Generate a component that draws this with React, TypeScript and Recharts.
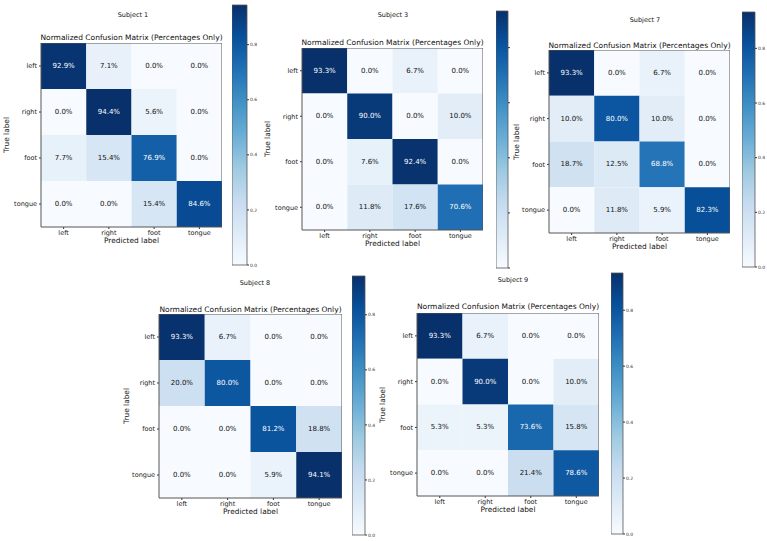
import React from "react";
import { ScatterChart, Scatter, XAxis, YAxis, ReferenceArea, BarChart, Bar } from "recharts";

// class labels, shared by both axes
const classes = ["left", "right", "foot", "tongue"];
const subjects = ["Subject 1", "Subject 3", "Subject 7", "Subject 8", "Subject 9"];

// row-normalised confusion matrices, percent (rows = true label)
const subject1 = [
  [92.9, 7.1, 0.0, 0.0],
  [0.0, 94.4, 5.6, 0.0],
  [7.7, 15.4, 76.9, 0.0],
  [0.0, 0.0, 15.4, 84.6],
];
const subject3 = [
  [93.3, 0.0, 6.7, 0.0],
  [0.0, 90.0, 0.0, 10.0],
  [0.0, 7.6, 92.4, 0.0],
  [0.0, 11.8, 17.6, 70.6],
];
const subject7 = [
  [93.3, 0.0, 6.7, 0.0],
  [10.0, 80.0, 10.0, 0.0],
  [18.7, 12.5, 68.8, 0.0],
  [0.0, 11.8, 5.9, 82.3],
];
const subject8 = [
  [93.3, 6.7, 0.0, 0.0],
  [20.0, 80.0, 0.0, 0.0],
  [0.0, 0.0, 81.2, 18.8],
  [0.0, 0.0, 5.9, 94.1],
];
const subject9 = [
  [93.3, 6.7, 0.0, 0.0],
  [0.0, 90.0, 0.0, 10.0],
  [5.3, 5.3, 73.6, 15.8],
  [0.0, 0.0, 21.4, 78.6],
];
const matrices = [subject1, subject3, subject7, subject8, subject9];
const colorbarTicks = [0, 0.2, 0.4, 0.6, 0.8];

// page layout of each panel: matrix box [l,t,r,b], titles, colorbar box
const layout = [
  { box: [41, 43, 222, 227], title: [133, 15], heading: 38, yLabel: 7, cb: [232, 5, 247, 265], cbText: true },
  { box: [302, 48, 483, 230], title: [393, 15], heading: 43, yLabel: 268, cb: [496, 11, 508, 268], cbText: false },
  { box: [549, 50, 730, 233], title: [645, 20], heading: 46, yLabel: 517, cb: [742, 12, 755, 267], cbText: true },
  { box: [159, 314, 342, 498], title: [255, 283], heading: 310, yLabel: 127, cb: [352, 276, 365, 535], cbText: true },
  { box: [417, 313, 599, 496], title: [513, 280], heading: 307, yLabel: 383, cb: [611, 273, 623, 534], cbText: true },
];

// matplotlib "Blues"
const blues = [
  [247, 251, 255], [222, 235, 247], [198, 219, 239], [158, 202, 225], [107, 174, 214],
  [66, 146, 198], [33, 113, 181], [8, 81, 156], [8, 48, 107],
];
function bluesAt(t: number) {
  const x = Math.max(0, Math.min(1, t)) * (blues.length - 1);
  const i = Math.min(blues.length - 2, Math.floor(x));
  const f = x - i;
  const c = blues[i].map((a, k) => Math.round(a + (blues[i + 1][k] - a) * f));
  return `rgb(${c[0]},${c[1]},${c[2]})`;
}

const FONT = "'DejaVu Sans', sans-serif";
const YW = 40;
const XH = 12;
const CBPAD = 4;

function Txt({ x, y, size, children, rotate }: any) {
  return (
    <div
      style={{
        position: "absolute",
        left: x,
        top: y,
        transform: `translate(-50%, -50%)${rotate ? " rotate(-90deg)" : ""}`,
        fontSize: size,
        whiteSpace: "nowrap",
        lineHeight: 1,
        color: "#111",
      }}
    >
      {children}
    </div>
  );
}

function Panel({ idx }: { idx: number }) {
  const m = matrices[idx];
  const L = layout[idx];
  const [l, t, r, b] = L.box;
  const w = r - l;
  const h = b - t;
  const cw = w / 4;
  const ch = h / 4;
  const vmax = Math.max(...m.flat());
  const data = m.flatMap((row, i) => row.map((v, j) => ({ row: i, col: j, v })));
  const [cl, ct, cr, cbm] = L.cb;
  const gid = `cbgrad${idx}`;

  const cell = (p: any) => {
    const { cx, cy, payload } = p;
    return (
      <g>
        <rect x={cx - cw / 2} y={cy - ch / 2} width={cw} height={ch} fill={bluesAt(payload.v / vmax)} />
        <text
          x={cx}
          y={cy}
          textAnchor="middle"
          dominantBaseline="central"
          fontSize={7}
          fill={payload.v > vmax / 2 ? "#fff" : "#111"}
        >
          {payload.v.toFixed(1)}%
        </text>
      </g>
    );
  };

  return (
    <>
      <Txt x={L.title[0]} y={L.title[1]} size={6.5}>{subjects[idx]}</Txt>
      <Txt x={(l + r) / 2} y={L.heading} size={7.5}>Normalized Confusion Matrix (Percentages Only)</Txt>
      <Txt x={(l + r) / 2} y={b + 14} size={7.4}>Predicted label</Txt>
      <Txt x={L.yLabel} y={(t + b) / 2} size={7.4} rotate>True label</Txt>
      <div style={{ position: "absolute", left: l - YW, top: t }}>
        <ScatterChart width={w + YW} height={h + XH} margin={{ top: 0, right: 0, bottom: 0, left: 0 }}>
          <XAxis
            type="number"
            dataKey="col"
            domain={[-0.5, 3.5]}
            ticks={[0, 1, 2, 3]}
            interval={0}
            tickFormatter={(i) => classes[i]}
            tick={{ fontSize: 6.5, fill: "#222" }}
            tickSize={2}
            tickMargin={1}
            axisLine={false}
            tickLine={{ stroke: "#333" }}
            height={XH}
          />
          <YAxis
            type="number"
            dataKey="row"
            domain={[-0.5, 3.5]}
            reversed
            ticks={[0, 1, 2, 3]}
            interval={0}
            tickFormatter={(i) => classes[i]}
            tick={{ fontSize: 6.5, fill: "#222" }}
            tickSize={2}
            tickMargin={2}
            axisLine={false}
            tickLine={{ stroke: "#333" }}
            width={YW}
          />
          <Scatter data={data} shape={cell} isAnimationActive={false} />
          <ReferenceArea
            x1={-0.5}
            x2={3.5}
            y1={-0.5}
            y2={3.5}
            fill="none"
            fillOpacity={0}
            stroke="#555"
            strokeWidth={1}
            zIndex={1000}
          />
        </ScatterChart>
      </div>
      <div style={{ position: "absolute", left: cl, top: ct - CBPAD }}>
        <BarChart
          width={cr - cl + 20}
          height={cbm - ct + 2 * CBPAD}
          data={[{ name: "cb", v: vmax / 100 }]}
          margin={{ top: CBPAD, right: 0, bottom: CBPAD, left: 0 }}
          barCategoryGap={0}
        >
          <defs>
            <linearGradient id={gid} x1="0" y1="1" x2="0" y2="0">
              {blues.map((c, k) => (
                <stop key={k} offset={k / (blues.length - 1)} stopColor={`rgb(${c[0]},${c[1]},${c[2]})`} />
              ))}
            </linearGradient>
          </defs>
          <XAxis dataKey="name" hide />
          <YAxis
            orientation="right"
            type="number"
            domain={[0, vmax / 100]}
            ticks={colorbarTicks}
            interval={0}
            tickFormatter={(v) => (L.cbText ? v.toFixed(1) : "")}
            tick={{ fontSize: 4.5, fill: "#333" }}
            tickSize={2}
            tickMargin={1}
            axisLine={false}
            tickLine={{ stroke: "#333" }}
            width={20}
          />
          <Bar dataKey="v" fill={`url(#${gid})`} stroke="#555" strokeWidth={0.8} isAnimationActive={false} />
        </BarChart>
      </div>
    </>
  );
}

export default function App() {
  return (
    <div
      style={{
        position: "absolute",
        left: 0,
        top: 0,
        width: 767,
        height: 541,
        background: "#fff",
        fontFamily: FONT,
        overflow: "hidden",
      }}
    >
      {matrices.map((_, i) => (
        <Panel key={i} idx={i} />
      ))}
    </div>
  );
}
